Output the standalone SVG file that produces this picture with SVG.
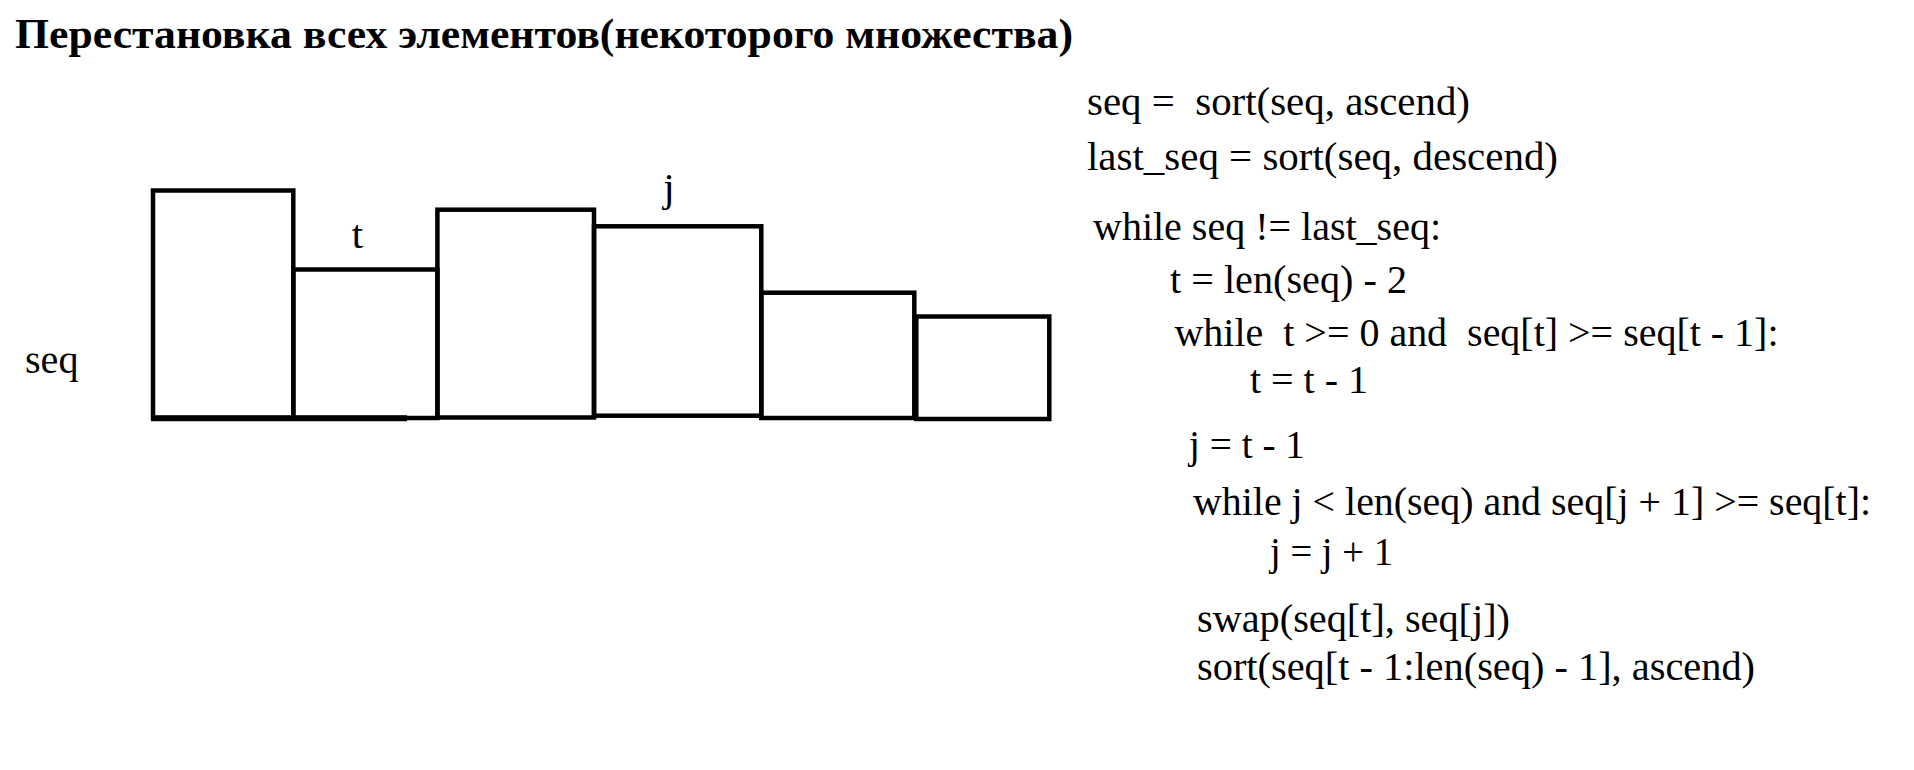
<svg xmlns="http://www.w3.org/2000/svg" width="1914" height="770" viewBox="0 0 1914 770">
  <style>
    .bar { fill: none; stroke: #000; stroke-width: 4.5; }
    .base { stroke: #000; stroke-width: 6; fill: none; }
    text { fill: #000; white-space: pre; }
  </style>
  <rect x="0" y="0" width="1914" height="770" fill="#fff"/>

  <g id="title" font-family="Liberation Serif, DejaVu Serif, serif" font-size="42" font-weight="bold">
    <text x="15" y="47.7" textLength="1058" lengthAdjust="spacingAndGlyphs">Перестановка всех элементов(некоторого множества)</text>
  </g>

  <g id="labels" font-family="Liberation Serif, DejaVu Serif, serif" font-size="41">
    <g id="label-seq"><text x="25" y="372.7" textLength="53.5" lengthAdjust="spacingAndGlyphs">seq</text></g>
    <g id="label-t"><text x="357.5" y="248" text-anchor="middle">t</text></g>
    <g id="label-j"><text x="669" y="201" text-anchor="middle">j</text></g>
  </g>

  <g id="bar1"><rect class="bar" x="153" y="190.5" width="140.3" height="227.5"/></g>
  <g id="bar2"><rect class="bar" x="293.3" y="269.5" width="144.1" height="148.5"/></g>
  <g id="bar3"><rect class="bar" x="437.4" y="209.7" width="156.6" height="207.8"/></g>
  <g id="bar4"><rect class="bar" x="594" y="226.3" width="167.3" height="189.4"/></g>
  <g id="bar5"><rect class="bar" x="761.3" y="292.7" width="153" height="125.3"/></g>
  <g id="bar6"><rect class="bar" x="916.3" y="316.5" width="133" height="102.5"/></g>

  <g id="baseline">
    <line class="base" x1="151" y1="418.3" x2="407" y2="418.3"/>
  </g>

  <g id="code" font-family="Liberation Serif, DejaVu Serif, serif" font-size="41">
    <text x="1087" y="115" textLength="383" lengthAdjust="spacingAndGlyphs">seq =  sort(seq, ascend)</text>
    <text x="1087" y="170" textLength="471" lengthAdjust="spacingAndGlyphs">last_seq = sort(seq, descend)</text>
    <text x="1093" y="240" textLength="348" lengthAdjust="spacingAndGlyphs">while seq != last_seq:</text>
    <text x="1170" y="293" textLength="237" lengthAdjust="spacingAndGlyphs">t = len(seq) - 2</text>
    <text x="1174.5" y="346" textLength="604" lengthAdjust="spacingAndGlyphs">while  t &gt;= 0 and  seq[t] &gt;= seq[t - 1]:</text>
    <text x="1250" y="392.5" textLength="118" lengthAdjust="spacingAndGlyphs">t = t - 1</text>
    <text x="1189" y="458" textLength="116" lengthAdjust="spacingAndGlyphs">j = t - 1</text>
    <text x="1193" y="515" textLength="678" lengthAdjust="spacingAndGlyphs">while j &lt; len(seq) and seq[j + 1] &gt;= seq[t]:</text>
    <text x="1270" y="565" textLength="123" lengthAdjust="spacingAndGlyphs">j = j + 1</text>
    <text x="1197" y="631.5" textLength="313" lengthAdjust="spacingAndGlyphs">swap(seq[t], seq[j])</text>
    <text x="1197" y="680" textLength="558" lengthAdjust="spacingAndGlyphs">sort(seq[t - 1:len(seq) - 1], ascend)</text>
  </g>
</svg>
